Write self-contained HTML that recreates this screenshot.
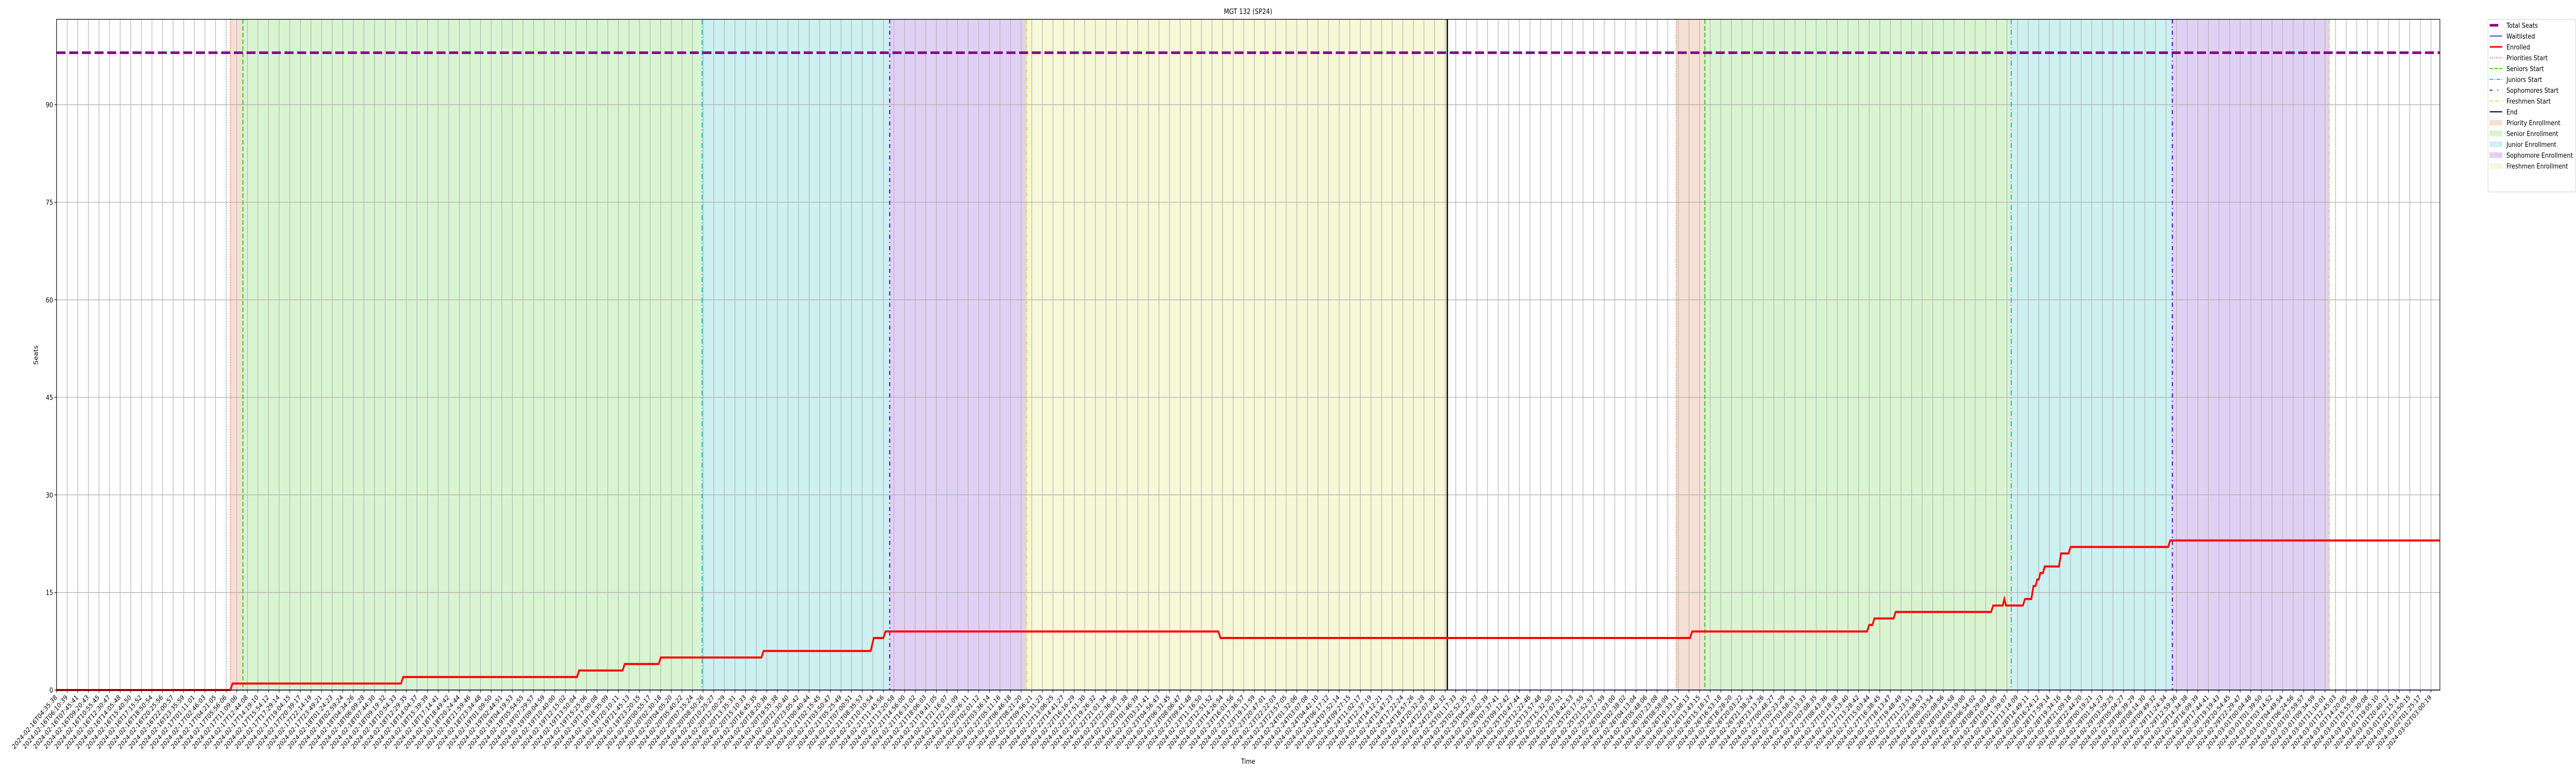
<!DOCTYPE html>
<html>
<head>
<meta charset="utf-8">
<style>
  html,body{margin:0;padding:0;background:#fff;overflow:hidden;width:100vw;height:100vh;}
  svg{display:block;width:100vw;height:100vh;font-family:"DejaVu Sans","Liberation Sans",sans-serif;}
</style>
</head>
<body>
<svg id="chart" viewBox="0 0 6000 1500" preserveAspectRatio="none" xmlns="http://www.w3.org/2000/svg">
  <defs><clipPath id="frameclip"><rect x="0" y="0" width="6000" height="1500"/></clipPath></defs>
  <g clip-path="url(#frameclip)">
  <text x="2907" y="27" font-size="14" text-anchor="middle" fill="#000">MGT 132 (SP24)</text>
  <text x="2907" y="1482" font-size="13.5" text-anchor="middle" fill="#000">Time</text>
  <text x="0" y="0" font-size="13.5" text-anchor="middle" fill="#000" transform="translate(88,689) rotate(-90)">Seats</text>
  <g id="plot"></g>
  <g id="legend"></g>
  </g>
</svg>
<script>
// ---- data ----
const totalSeats = 98;
const yTicks = [0, 15, 30, 45, 60, 75, 90];
const priorityStarts = [16.4, 152.8];
const seniorStarts = [17.58, 155.5];
const juniorStarts = [60.9, 184.4];
const sophomoreStarts = [78.6, 199.6];
const freshmenStarts = [91.5, 214.4];
const endMarks = [131.2];
const enrolledX = [0,16.4,16.6,32.5,32.7,49.1,49.3,53.4,53.6,56.8,57.0,66.5,66.7,76.8,77.1,78.0,78.2,109.6,109.8,154.1,154.3,170.8,171.0,171.3,171.5,173.3,173.5,182.5,182.7,183.6,183.75,183.9,185.5,185.7,186.3,186.5,186.7,186.85,187.0,187.15,187.4,187.55,188.9,189.1,189.8,190.0,199.2,199.4,224.84];
const enrolledY = [0,0,1,1,2,2,3,3,4,4,5,5,6,6,8,8,9,9,8,8,9,9,10,10,11,11,12,12,13,13,14,13,13,14,14,16,16,17,17,18,18,19,19,21,21,22,22,23,23];
const waitlistX = [0, 224.84];
const waitlistY = [0, 0];
const tickStart = "2024-02-16T04:35:38";
const tickCount = 225;
const tickGapIndex = 17;
const tickGapMinutes = 313;
const tickStepMinutes = 95.03;

// ---- layout ----
const L = 131.7, R = 5683, T = 37.5, B = 1339;
const xStep = 24.69, yScale = 12.62;
function xPos(i){ return L + i * xStep; }
function yPos(v){ return B - v * yScale; }

const NS = "http://www.w3.org/2000/svg";
const plot = document.getElementById("plot");
function mk(tag, attrs, parent){
  const e = document.createElementNS(NS, tag);
  for (const k in attrs) e.setAttribute(k, attrs[k]);
  (parent || plot).appendChild(e);
  return e;
}

function pad(n){ return String(n).padStart(2,"0"); }
const tickLabels = [];
(function(){
  let t = new Date(tickStart + "Z").getTime();
  for (let i = 0; i < tickCount; i++){
    if (i > 0) t += (i === tickGapIndex ? tickGapMinutes : tickStepMinutes) * 60000;
    const d = new Date(t);
    tickLabels.push(d.getUTCFullYear()+"-"+pad(d.getUTCMonth()+1)+"-"+pad(d.getUTCDate())+"T"+pad(d.getUTCHours())+":"+pad(d.getUTCMinutes())+":"+pad(d.getUTCSeconds()));
  }
})();

// ---- regions ----
const regionDefs = [
  {starts: priorityStarts, ends: seniorStarts, fill: "#f6dfd5", name: "priority-enrollment-region"},
  {starts: seniorStarts, ends: juniorStarts, fill: "#d9f4d1", name: "senior-enrollment-region"},
  {starts: juniorStarts, ends: sophomoreStarts, fill: "#cdf0f1", name: "junior-enrollment-region"},
  {starts: sophomoreStarts, ends: freshmenStarts, fill: "#e0d1f4", name: "sophomore-enrollment-region"},
  {starts: freshmenStarts.slice(0, endMarks.length), ends: endMarks, fill: "#f6f8d8", name: "freshmen-enrollment-region"}
];
regionDefs.forEach(function(rd){
  for (let k = 0; k < rd.ends.length && k < rd.starts.length; k++){
    const x0 = xPos(rd.starts[k]), x1 = xPos(rd.ends[k]);
    const r = mk("rect", {x: x0, y: T, width: x1 - x0, height: B - T, fill: rd.fill});
    
    
  }
});

// ---- grid ----
for (let i = 0; i < tickCount; i++){
  const x = xPos(i);
  const g = mk("line", {x1: x, x2: x, y1: T, y2: B, stroke: "#b0b0b0", "stroke-width": 1.3});
  
  
  const tk = mk("line", {x1: x, x2: x, y1: B, y2: B + 5, stroke: "#000", "stroke-width": 1.2});
  
  
  const lb = mk("text", {x: 0, y: 0, "font-size": 13, "text-anchor": "end", fill: "#000", transform: "translate(" + (x + 2) + "," + (B + 15) + ") rotate(-45)"});
  lb.textContent = tickLabels[i];
  
  
}
yTicks.forEach(function(v){
  const y = yPos(v);
  const g = mk("line", {x1: L, x2: R, y1: y, y2: y, stroke: "#b0b0b0", "stroke-width": 1.3});
  
  
  const tk = mk("line", {x1: L - 5, x2: L, y1: y, y2: y, stroke: "#000", "stroke-width": 1.2});
  
  
  const lb = mk("text", {x: L - 8, y: y + 5, "font-size": 13.5, "text-anchor": "end", fill: "#000"});
  lb.textContent = v;
  
  
});

// ---- event lines ----
const lineDefs = [
  {arr: priorityStarts, color: "#ee6a3a", dash: "2,3", w: 2, name: "priorities-start-line"},
  {arr: seniorStarts, color: "#33cc22", dash: "9,4", w: 2.5, name: "seniors-start-line"},
  {arr: juniorStarts, color: "#17c3d0", dash: "10,4,2,4", w: 2.5, name: "juniors-start-line"},
  {arr: sophomoreStarts, color: "#6a22d8", dash: "8,6,2,6", w: 3, name: "sophomores-start-line"},
  {arr: freshmenStarts, color: "#dede2a", dash: "8,3,2,3", w: 2.5, name: "freshmen-start-line"},
  {arr: endMarks, color: "#000", dash: "none", w: 3, name: "end-line"}
];
lineDefs.forEach(function(ld){
  ld.arr.forEach(function(v){
    const x = xPos(v);
    const l = mk("line", {x1: x, x2: x, y1: T, y2: B, stroke: ld.color, "stroke-width": ld.w, "stroke-dasharray": ld.dash});
    
    
  });
});

// ---- series ----
function pathFrom(xs, ys){
  let d = "";
  for (let i = 0; i < xs.length; i++) d += (i ? "L" : "M") + xPos(xs[i]).toFixed(2) + "," + yPos(ys[i]).toFixed(2);
  return d;
}
const ts = mk("line", {x1: L, x2: R, y1: yPos(totalSeats), y2: yPos(totalSeats), stroke: "#800080", "stroke-width": 5, "stroke-dasharray": "21,8.5"});


const wl = mk("path", {d: pathFrom(waitlistX, waitlistY), fill: "none", stroke: "#0000ff", "stroke-width": 1.6});


const en = mk("path", {d: pathFrom(enrolledX, enrolledY), fill: "none", stroke: "#ff0000", "stroke-width": 4, "stroke-linejoin": "miter"});



const fr = mk("rect", {x: L, y: T, width: R - L, height: B - T, fill: "none", stroke: "#000", "stroke-width": 1.3});



// ---- legend ----
const legend = document.getElementById("legend");
const lgBox = mk("rect", {x: 5795, y: 37.5, width: 204, height: 335, rx: 3, fill: "#fff", stroke: "#d0d0d0", "stroke-width": 1}, legend);


const legendItems = [
  {label: "Total Seats", type: "line", color: "#800080", w: 5, dash: "21,8", x2: 5819},
  {label: "Waitlisted", type: "line", color: "#0000ff", w: 1.6, dash: "none"},
  {label: "Enrolled", type: "line", color: "#ff0000", w: 3, dash: "none"},
  {label: "Priorities Start", type: "line", color: "#ee6a3a", w: 2, dash: "2,3"},
  {label: "Seniors Start", type: "line", color: "#33cc22", w: 2, dash: "8,3"},
  {label: "Juniors Start", type: "line", color: "#17c3d0", w: 2, dash: "8,3,2,3"},
  {label: "Sophomores Start", type: "line", color: "#6a22d8", w: 2.5, dash: "6,12,2,12"},
  {label: "Freshmen Start", type: "line", color: "#dede2a", w: 2, dash: "6,3,2,3"},
  {label: "End", type: "line", color: "#000", w: 2, dash: "none"},
  {label: "Priority Enrollment", type: "patch", color: "#f6dfd5"},
  {label: "Senior Enrollment", type: "patch", color: "#d9f4d1"},
  {label: "Junior Enrollment", type: "patch", color: "#cdf0f1"},
  {label: "Sophomore Enrollment", type: "patch", color: "#e0d1f4"},
  {label: "Freshmen Enrollment", type: "patch", color: "#f6f8d8"}
];
legendItems.forEach(function(it, k){
  const cy = 49 + k * 21;
  const g = mk("g", {}, legend);
  
  
  if (it.type === "line"){
    mk("line", {x1: 5799, x2: it.x2 || 5828, y1: cy, y2: cy, stroke: it.color, "stroke-width": it.w, "stroke-dasharray": it.dash}, g);
  } else {
    mk("rect", {x: 5799, y: cy - 5, width: 29, height: 10, fill: it.color, stroke: it.color}, g);
  }
  const tx = mk("text", {x: 5838, y: cy + 5, "font-size": 13.5, fill: "#000"}, g);
  tx.textContent = it.label;
});
</script>
</body>
</html>
